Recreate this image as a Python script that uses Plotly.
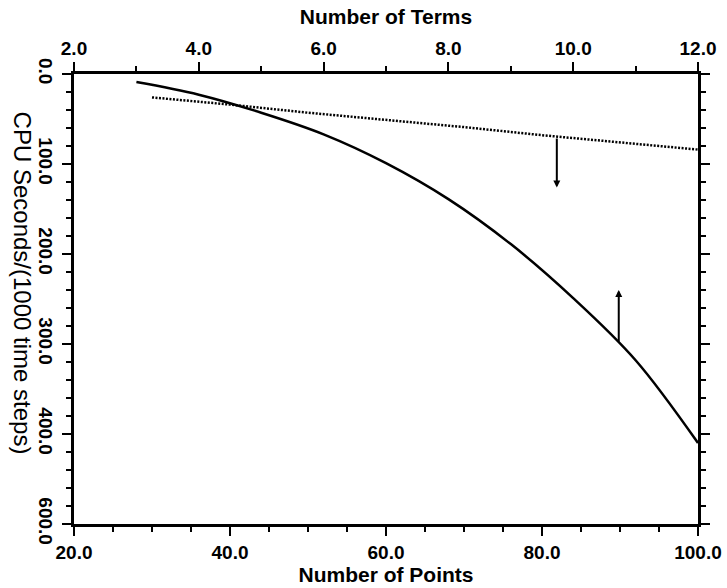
import plotly.graph_objects as go

# Solid curve: CPU time vs number of terms (top axis)
terms = [3, 4, 5, 6, 7, 8, 9, 10, 11, 12]
cpu_terms = [9, 23, 43, 67, 99, 139, 189, 249, 318, 410]

# Dotted line: CPU time vs number of points (bottom axis)
points = [30, 40, 50, 60, 70, 80, 90, 100]
cpu_points = [26, 34, 43, 51, 59, 68, 76, 84]

# Y tick labels (as printed on the chart)
y_tickvals = [0, 100, 200, 300, 400, 500]
y_ticktext = ["0.0", "100.0", "200.0", "300.0", "400.0", "600.0"]

# Arrow annotations: [x, y_start, y_end]
arrow_points = [81.9, 70, 126]    # dotted -> points to bottom axis
arrow_terms = [10.73, 299, 240]   # solid -> points to top axis

FONT = "Liberation Sans, Arial, sans-serif"

fig = go.Figure()
fig.add_trace(go.Scatter(
    x=points, y=cpu_points, xaxis="x", yaxis="y", mode="lines",
    line=dict(color="black", width=2.5, dash="2px,1.5px"), showlegend=False))
fig.add_trace(go.Scatter(
    x=terms, y=cpu_terms, xaxis="x2", yaxis="y", mode="lines",
    line=dict(color="black", width=2.5, shape="spline"), showlegend=False))

axis_common = dict(
    showgrid=False, zeroline=False, showline=True, linecolor="black", linewidth=2.5,
    ticks="outside", ticklen=9, tickwidth=2, tickcolor="black", automargin=False,
    tickfont=dict(family=FONT, size=19, color="black", weight="bold"),
)

fig.update_layout(
    width=727, height=588,
    margin=dict(l=74, r=29, t=74, b=64),
    plot_bgcolor="white", paper_bgcolor="white",
    xaxis=dict(range=[20, 100], tickvals=[20, 40, 60, 80, 100], tickformat=".1f",
               minor=dict(dtick=5, tick0=20, ticks="outside", ticklen=5, tickwidth=2, tickcolor="black"),
               title=dict(text="Number of Points", standoff=3,
                          font=dict(family=FONT, size=21, color="black", weight="bold")),
               anchor="y", **axis_common),
    xaxis2=dict(range=[2, 12], tickvals=[2, 4, 6, 8, 10, 12], tickformat=".1f",
                minor=dict(dtick=1, tick0=2, ticks="outside", ticklen=5, tickwidth=2, tickcolor="black"),
                title=dict(text="Number of Terms", standoff=8,
                           font=dict(family=FONT, size=21, color="black", weight="bold")),
                overlaying="x", side="top", anchor="y", **axis_common),
    yaxis=dict(range=[500, 0], tickvals=y_tickvals, ticktext=y_ticktext, tickangle=90,
               mirror="ticks",
               minor=dict(dtick=20, tick0=0, ticks="outside", ticklen=5, tickwidth=2, tickcolor="black"),
               **axis_common),
)

fig.add_annotation(
    text="CPU Seconds/(1000 time steps)", textangle=90,
    xref="paper", yref="paper", x=-0.083, y=0.536, xanchor="center", yanchor="middle",
    showarrow=False, font=dict(family=FONT, size=24, color="black"))

fig.add_annotation(
    x=arrow_points[0], y=arrow_points[2], ax=arrow_points[0], ay=arrow_points[1],
    xref="x", yref="y", axref="x", ayref="y", text="", showarrow=True,
    arrowhead=2, arrowsize=0.7, arrowwidth=2, arrowcolor="black")
fig.add_annotation(
    x=arrow_terms[0], y=arrow_terms[2], ax=arrow_terms[0], ay=arrow_terms[1],
    xref="x2", yref="y", axref="x2", ayref="y", text="", showarrow=True,
    arrowhead=2, arrowsize=0.7, arrowwidth=2, arrowcolor="black")

fig.write_html("out.html", config={"displayModeBar": False},
               post_script="document.body.style.margin='0px';")
